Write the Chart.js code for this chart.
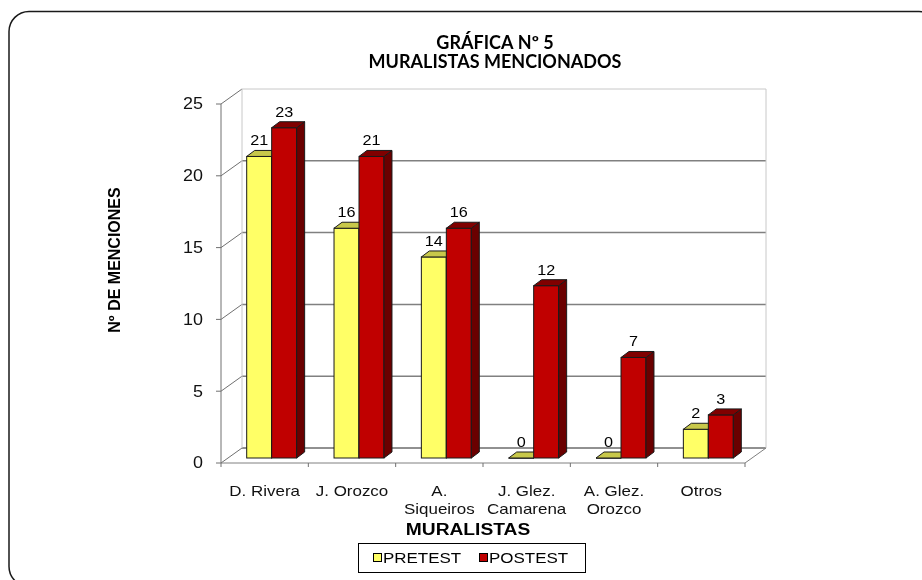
<!DOCTYPE html>
<html>
<head>
<meta charset="utf-8">
<script src="https://cdn.jsdelivr.net/npm/chart.js@4.4.1/dist/chart.umd.min.js"></script>
<style>
  html, body { margin: 0; padding: 0; background: #fff; }
  canvas { display: block; }
</style>
</head>
<body>
<canvas id="chart" width="922" height="580"></canvas>
<script>
const categories = [["D. Rivera"], ["J. Orozco"], ["A.", "Siqueiros"], ["J. Glez.", "Camarena"], ["A. Glez.", "Orozco"], ["Otros"]]
const pretest = [21, 16, 14, 0, 0, 2]
const postest = [23, 21, 16, 12, 7, 3]
const yTicks = [0, 5, 10, 15, 20, 25]
const seriesNames = ["PRETEST", "POSTEST"]
const titleLines = ["GRÁFICA Nº 5", "MURALISTAS MENCIONADOS"]

// 3D look: wall depth, how far the bars sit into it, and the bars' own depth
const wall = { dx: 21, dy: -15 }
const shift = { dx: 7, dy: -5 }
const bar3d = { dx: 8, dy: -6 }

const faces = [
  { front: "#FFFF66", top: "#C8C84A", side: "#9E9E30" },
  { front: "#C00000", top: "#800000", side: "#6A0000" },
]

const arial = "'Liberation Sans', Arial, sans-serif"

// the original picture is a bit stretched sideways, so text is too
function wideText(ctx, text, x, y, sx = 1.13) {
  ctx.save()
  ctx.translate(x, y)
  ctx.scale(sx, 1)
  ctx.fillText(text, 0, 0)
  ctx.restore()
}

function drawBox(ctx, bar, colors) {
  const { x, y, base, width } = bar.getProps(["x", "y", "base", "width"], true)
  const l = x - width / 2
  const r = x + width / 2

  ctx.fillStyle = colors.front
  ctx.fillRect(l, y, width, base - y)
  ctx.strokeRect(l, y, width, base - y)

  ctx.fillStyle = colors.side
  ctx.beginPath()
  ctx.moveTo(r, y)
  ctx.lineTo(r + bar3d.dx, y + bar3d.dy)
  ctx.lineTo(r + bar3d.dx, base + bar3d.dy)
  ctx.lineTo(r, base)
  ctx.closePath()
  ctx.fill()
  ctx.stroke()

  ctx.fillStyle = colors.top
  ctx.beginPath()
  ctx.moveTo(l, y)
  ctx.lineTo(l + bar3d.dx, y + bar3d.dy)
  ctx.lineTo(r + bar3d.dx, y + bar3d.dy)
  ctx.lineTo(r, y)
  ctx.closePath()
  ctx.fill()
  ctx.stroke()
}

function frameAndWalls() {
  return {
    id: "walls",
    beforeDraw: (chart) => {
      const { ctx } = chart
      ctx.save()
      ctx.fillStyle = "#fff"
      ctx.fillRect(0, 0, chart.width, chart.height)
      ctx.strokeStyle = "#1a1a1a"
      ctx.lineWidth = 1.5
      ctx.beginPath()
      ctx.roundRect(9, 11.5, 930, 575, 20)
      ctx.stroke()
      ctx.restore()
    },
    beforeDatasetsDraw: (chart) => {
      const { ctx, chartArea } = chart
      const x = chart.scales.x
      const y = chart.scales.y
      const left = chartArea.left
      const right = chartArea.right
      const y0 = y.getPixelForValue(0)
      const yTop = y.getPixelForValue(yTicks[yTicks.length - 1])

      ctx.save()

      // back wall gridlines
      yTicks.forEach((v, i) => {
        const py = y.getPixelForValue(v) + wall.dy
        ctx.strokeStyle = i === 0 ? "#222" : (i === yTicks.length - 1 ? "#C8C8C8" : "#808080")
        ctx.lineWidth = i === 0 || i === yTicks.length - 1 ? 1 : 1.5
        ctx.beginPath()
        ctx.moveTo(left + wall.dx, py)
        ctx.lineTo(right + wall.dx, py)
        ctx.stroke()
      })

      // left wall diagonals
      ctx.lineWidth = 1
      ctx.strokeStyle = "#707070"
      yTicks.forEach((v) => {
        const py = y.getPixelForValue(v)
        ctx.beginPath()
        ctx.moveTo(left, py)
        ctx.lineTo(left + wall.dx, py + wall.dy)
        ctx.stroke()
      })

      // back verticals
      ctx.strokeStyle = "#C8C8C8"
      ctx.beginPath()
      ctx.moveTo(left + wall.dx, yTop + wall.dy)
      ctx.lineTo(left + wall.dx, y0 + wall.dy)
      ctx.moveTo(right + wall.dx, yTop + wall.dy)
      ctx.lineTo(right + wall.dx, y0 + wall.dy)
      ctx.stroke()

      // floor front edge + right diagonal
      ctx.strokeStyle = "#808080"
      ctx.beginPath()
      ctx.moveTo(left, y0)
      ctx.lineTo(right, y0)
      ctx.lineTo(right + wall.dx, y0 + wall.dy)
      ctx.stroke()

      // value axis
      ctx.strokeStyle = "#707070"
      ctx.beginPath()
      ctx.moveTo(left, yTop)
      ctx.lineTo(left, y0)
      yTicks.forEach((v) => {
        const py = y.getPixelForValue(v)
        ctx.moveTo(left - 5, py)
        ctx.lineTo(left, py)
      })
      // category ticks on the boundaries
      const step = x.getPixelForValue(1) - x.getPixelForValue(0)
      for (let i = 0; i <= categories.length; i++) {
        const px = x.getPixelForValue(0) - step / 2 + i * step
        ctx.moveTo(px, y0)
        ctx.lineTo(px, y0 + 4)
      }
      ctx.stroke()

      // tick labels
      ctx.fillStyle = "#111"
      ctx.font = `16px ${arial}`
      ctx.textAlign = "right"
      ctx.textBaseline = "middle"
      yTicks.forEach((v) => {
        wideText(ctx, String(v), left - 18, y.getPixelForValue(v) + 1, 1.12)
      })

      ctx.font = `15px ${arial}`
      ctx.textAlign = "center"
      categories.forEach((lines, i) => {
        lines.forEach((line, j) => {
          wideText(ctx, line, x.getPixelForValue(i), 492 + j * 18)
        })
      })

      ctx.restore()
    },
    afterDatasetsDraw: (chart) => {
      const { ctx } = chart
      // bars sit a little way into the depth; draw them as boxes,
      // pretest first so each postest box covers its neighbour's side
      ctx.save()
      ctx.translate(shift.dx, shift.dy)
      ctx.lineWidth = 1
      ctx.strokeStyle = "#1a1a1a"
      chart.data.datasets.forEach((ds, di) => {
        chart.getDatasetMeta(di).data.forEach((bar) => drawBox(ctx, bar, faces[di]))
      })

      ctx.fillStyle = "#000"
      ctx.font = `15px ${arial}`
      ctx.textAlign = "center"
      ctx.textBaseline = "alphabetic"
      chart.data.datasets.forEach((ds, di) => {
        chart.getDatasetMeta(di).data.forEach((bar, i) => {
          wideText(ctx, String(ds.data[i]), bar.x, bar.y + bar3d.dy - 5, 1.08)
        })
      })
      ctx.restore()
    },
    afterDraw: (chart) => {
      const { ctx } = chart
      ctx.save()
      ctx.fillStyle = "#000"
      ctx.textAlign = "center"
      ctx.textBaseline = "middle"

      ctx.font = "bold 18px Lato, 'Open Sans', sans-serif"
      titleLines.forEach((line, i) => ctx.fillText(line, 495, 43 + i * 19))

      ctx.font = `bold 16px ${arial}`
      wideText(ctx, "MURALISTAS", 468, 531, 1.2)

      ctx.save()
      ctx.translate(116, 260)
      ctx.rotate(-Math.PI / 2)
      ctx.font = `bold 16px ${arial}`
      ctx.fillText("Nº DE MENCIONES", 0, 0)
      ctx.restore()

      // legend
      ctx.strokeStyle = "#000"
      ctx.lineWidth = 1
      ctx.strokeRect(358.5, 543.5, 227, 29)
      ctx.font = `15px ${arial}`
      ctx.textAlign = "left"
      const legendX = [373, 479]
      seriesNames.forEach((name, i) => {
        ctx.fillStyle = faces[i].front
        ctx.fillRect(legendX[i] + 0.5, 553.5, 8, 8)
        ctx.strokeRect(legendX[i] + 0.5, 553.5, 8, 8)
        ctx.fillStyle = "#000"
        wideText(ctx, name, legendX[i] + 10, 558.5)
      })
      ctx.restore()
    },
  }
}

// Chart.js lays the bars out; the plugin paints them as 3D boxes
new Chart(document.getElementById("chart"), {
  type: "bar",
  data: {
    labels: categories,
    datasets: [
      {
        label: seriesNames[0],
        data: pretest,
        backgroundColor: "rgba(0,0,0,0)",
        borderWidth: 0,
        categoryPercentage: 0.572,
        barPercentage: 1,
        clip: false,
      },
      {
        label: seriesNames[1],
        data: postest,
        backgroundColor: "rgba(0,0,0,0)",
        borderWidth: 0,
        categoryPercentage: 0.572,
        barPercentage: 1,
        clip: false,
      },
    ],
  },
  options: {
    responsive: false,
    animation: false,
    layout: {
      padding: { left: 221, right: 177, top: 104, bottom: 117 },
    },
    scales: {
      x: { display: false },
      y: { display: false, min: 0, max: 25 },
    },
    plugins: {
      legend: { display: false },
      tooltip: { enabled: false },
    },
  },
  plugins: [frameAndWalls()],
})
</script>
</body>
</html>
